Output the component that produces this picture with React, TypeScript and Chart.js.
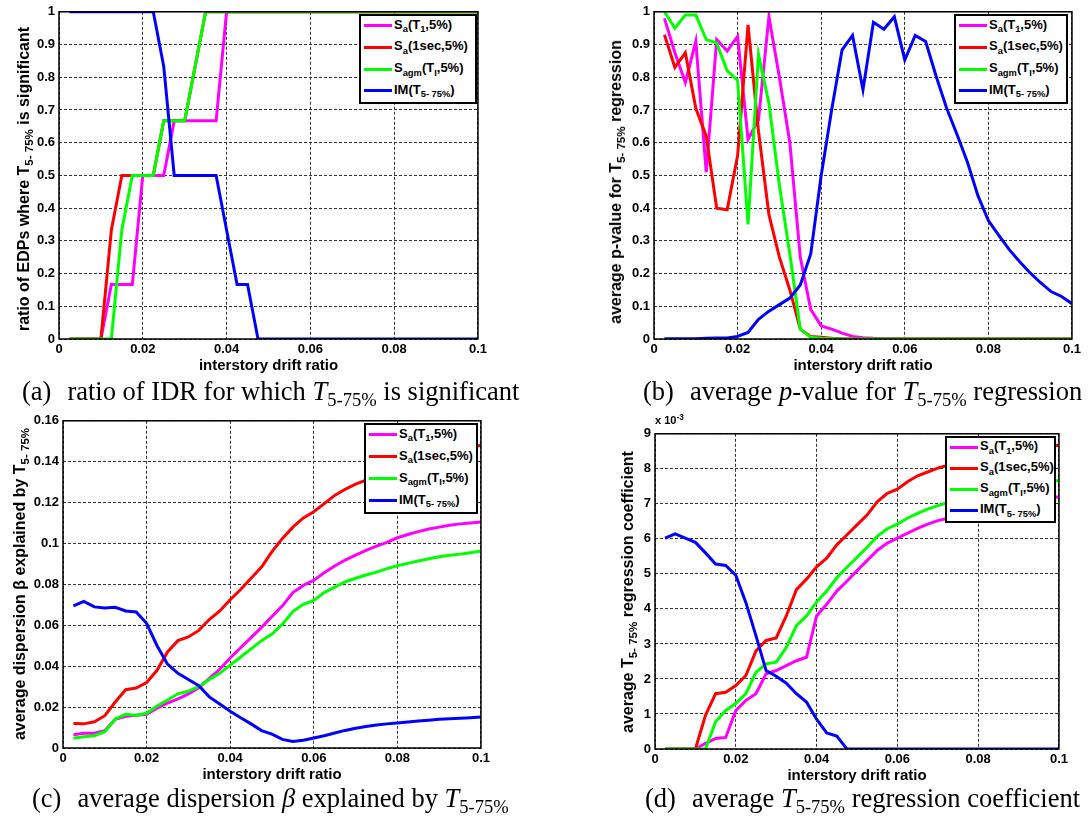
import React, { useEffect, useRef } from "react";
import { Chart, registerables } from "chart.js";

Chart.register(...registerables);

// ---------- data ----------
const DRIFT = [
  0.0025, 0.005, 0.0075, 0.01, 0.0125, 0.015, 0.0175, 0.02, 0.0225, 0.025,
  0.0275, 0.03, 0.0325, 0.035, 0.0375, 0.04, 0.0425, 0.045, 0.0475, 0.05,
  0.0525, 0.055, 0.0575, 0.06, 0.0625, 0.065, 0.0675, 0.07, 0.0725, 0.075,
  0.0775, 0.08, 0.0825, 0.085, 0.0875, 0.09, 0.0925, 0.095, 0.0975, 0.1,
];

// (a) ratio of EDPs where T5-75% is significant
const A_SA_T1 = [
  0, 0, 0, 0, 0.1667, 0.1667, 0.1667, 0.5, 0.5, 0.5,
  0.6667, 0.6667, 0.6667, 0.6667, 0.6667, 1, 1, 1, 1, 1,
  1, 1, 1, 1, 1, 1, 1, 1, 1, 1,
  1, 1, 1, 1, 1, 1, 1, 1, 1, 1,
];
const A_SA_1S = [
  0, 0, 0, 0, 0.3333, 0.5, 0.5, 0.5, 0.5, 0.6667,
  0.6667, 0.6667, 0.8333, 1, 1, 1, 1, 1, 1, 1,
  1, 1, 1, 1, 1, 1, 1, 1, 1, 1,
  1, 1, 1, 1, 1, 1, 1, 1, 1, 1,
];
const A_SAGM = [
  0, 0, 0, 0, 0, 0.3333, 0.5, 0.5, 0.5, 0.6667,
  0.6667, 0.6667, 0.8333, 1, 1, 1, 1, 1, 1, 1,
  1, 1, 1, 1, 1, 1, 1, 1, 1, 1,
  1, 1, 1, 1, 1, 1, 1, 1, 1, 1,
];
const A_IM = [
  1, 1, 1, 1, 1, 1, 1, 1, 1, 0.8333,
  0.5, 0.5, 0.5, 0.5, 0.5, 0.3333, 0.1667, 0.1667, 0, 0,
  0, 0, 0, 0, 0, 0, 0, 0, 0, 0,
  0, 0, 0, 0, 0, 0, 0, 0, 0, 0,
];

// (b) average p-value
const B_SA_T1 = [
  0.98, 0.875, 0.784, 0.91, 0.51, 0.915, 0.88, 0.925, 0.61, 0.67,
  0.985, 0.8, 0.6, 0.25, 0.09, 0.04, 0.03, 0.018, 0.008, 0.004,
  0.002, 0.001, 0.001, 0, 0, 0, 0, 0, 0, 0,
  0, 0, 0, 0, 0, 0, 0, 0, 0, 0,
];
const B_SA_1S = [
  0.93, 0.83, 0.875, 0.705, 0.62, 0.4, 0.395, 0.56, 0.96, 0.635,
  0.38, 0.25, 0.15, 0.03, 0.008, 0.005, 0.002, 0.001, 0, 0,
  0, 0, 0, 0, 0, 0, 0, 0, 0, 0,
  0, 0, 0, 0, 0, 0, 0, 0, 0, 0,
];
const B_SAGM = [
  1, 0.95, 0.99, 0.99, 0.915, 0.905, 0.82, 0.79, 0.35, 0.87,
  0.72, 0.47, 0.26, 0.03, 0.005, 0.002, 0.001, 0, 0, 0,
  0, 0, 0, 0, 0, 0, 0, 0, 0, 0,
  0, 0, 0, 0, 0, 0, 0, 0, 0, 0,
];
const B_IM = [
  0.001, 0.001, 0.001, 0.001, 0.002, 0.003, 0.003, 0.008, 0.02, 0.06,
  0.085, 0.105, 0.125, 0.165, 0.26, 0.5, 0.7, 0.884, 0.928, 0.762,
  0.968, 0.947, 0.985, 0.853, 0.928, 0.909, 0.803, 0.706, 0.625, 0.54,
  0.438, 0.362, 0.317, 0.273, 0.236, 0.202, 0.172, 0.145, 0.13, 0.108,
];

// (c) average dispersion beta explained
const C_SA_T1 = [
  0.0065, 0.0072, 0.0072, 0.0085, 0.014, 0.0155, 0.016, 0.0165, 0.0195, 0.022,
  0.024, 0.0265, 0.0295, 0.034, 0.0385, 0.044, 0.049, 0.054, 0.059, 0.0643,
  0.0695, 0.076, 0.0795, 0.082, 0.0857, 0.089, 0.0919, 0.0943, 0.0966, 0.0987,
  0.1005, 0.1028, 0.1044, 0.1058, 0.1071, 0.108, 0.1089, 0.1096, 0.11, 0.1105,
];
const C_SA_1S = [
  0.012, 0.0118, 0.0128, 0.0158, 0.0225, 0.0285, 0.0293, 0.032, 0.038, 0.047,
  0.0525, 0.0543, 0.0575, 0.0628, 0.067, 0.0725, 0.0775, 0.083, 0.0885, 0.096,
  0.1025, 0.108, 0.1125, 0.1155, 0.1195, 0.1235, 0.1265, 0.129, 0.131, 0.133,
  0.135, 0.137, 0.139, 0.1405, 0.142, 0.1435, 0.145, 0.146, 0.147, 0.148,
];
const C_SAGM = [
  0.0048, 0.0055, 0.006, 0.008, 0.0142, 0.0165, 0.016, 0.017, 0.0205, 0.0235,
  0.0265, 0.0278, 0.03, 0.0335, 0.0365, 0.0405, 0.0445, 0.0485, 0.0525, 0.0557,
  0.0605, 0.0667, 0.0703, 0.0722, 0.076, 0.0787, 0.0812, 0.083, 0.0846, 0.086,
  0.0877, 0.0891, 0.0903, 0.0914, 0.0925, 0.0935, 0.0943, 0.0948, 0.0955, 0.0963,
];
const C_IM = [
  0.0695, 0.0717, 0.069, 0.0685, 0.0688, 0.067, 0.0665, 0.061, 0.05, 0.041,
  0.0365, 0.0335, 0.0305, 0.025, 0.0215, 0.018, 0.0148, 0.0118, 0.0085, 0.0068,
  0.0042, 0.0032, 0.0038, 0.0049, 0.006, 0.0073, 0.0086, 0.0097, 0.0105, 0.0112,
  0.0118, 0.0122, 0.0127, 0.0132, 0.0136, 0.014, 0.0143, 0.0146, 0.0148, 0.0151,
];

// (d) average regression coefficient (x 10^-3)
const D_SA_T1_E3 = [
  0, 0, 0, 0, 0.16, 0.3, 0.33, 1.1, 1.39, 1.58,
  2.15, 2.24, 2.38, 2.52, 2.62, 3.8, 4.13, 4.51, 4.79, 5.09,
  5.38, 5.67, 5.88, 6.02, 6.16, 6.3, 6.42, 6.52, 6.59, 6.67,
  6.74, 6.8, 6.86, 6.92, 6.97, 7.02, 7.07, 7.11, 7.16, 7.2,
];
const D_SA_1S_E3 = [
  0, 0, 0, 0, 0.96, 1.58, 1.62, 1.81, 2.1, 2.8,
  3.1, 3.17, 3.8, 4.55, 4.85, 5.2, 5.45, 5.83, 6.11, 6.4,
  6.68, 7.06, 7.3, 7.42, 7.63, 7.8, 7.91, 8.02, 8.1, 8.18,
  8.25, 8.32, 8.38, 8.44, 8.5, 8.55, 8.59, 8.62, 8.65, 8.67,
];
const D_SAGM_E3 = [
  0, 0, 0, 0, 0, 0.78, 1.1, 1.3, 1.58, 2.19,
  2.43, 2.48, 2.9, 3.52, 3.8, 4.2, 4.51, 4.89, 5.19, 5.47,
  5.76, 6.07, 6.29, 6.42, 6.59, 6.73, 6.85, 6.95, 7.03, 7.1,
  7.17, 7.24, 7.3, 7.36, 7.42, 7.48, 7.53, 7.58, 7.63, 7.67,
];
const D_IM_E3 = [
  6.02, 6.14, 6.02, 5.9, 5.6, 5.28, 5.24, 4.96, 4.18, 3.23,
  2.24, 2.08, 1.88, 1.58, 1.34, 0.85, 0.46, 0.37, 0, 0,
  0, 0, 0, 0, 0, 0, 0, 0, 0, 0,
  0, 0, 0, 0, 0, 0, 0, 0, 0, 0,
];

// ticks
const X_TICKS = [0, 0.02, 0.04, 0.06, 0.08, 0.1];
const X_TICK_LABELS = ["0", "0.02", "0.04", "0.06", "0.08", "0.1"];
const Y_TICKS_RATIO = [0, 0.1, 0.2, 0.3, 0.4, 0.5, 0.6, 0.7, 0.8, 0.9, 1];
const Y_TICK_LABELS_RATIO = ["0", "0.1", "0.2", "0.3", "0.4", "0.5", "0.6", "0.7", "0.8", "0.9", "1"];
const Y_TICKS_BETA = [0, 0.02, 0.04, 0.06, 0.08, 0.1, 0.12, 0.14, 0.16];
const Y_TICK_LABELS_BETA = ["0", "0.02", "0.04", "0.06", "0.08", "0.1", "0.12", "0.14", "0.16"];
const Y_TICKS_COEF = [0, 1, 2, 3, 4, 5, 6, 7, 8, 9];
const Y_TICK_LABELS_COEF = ["0", "1", "2", "3", "4", "5", "6", "7", "8", "9"];

const SERIES_NAMES = ["Sa(T1,5%)", "Sa(1sec,5%)", "Sagm(TI,5%)", "IM(T5-75%)"];
const X_TITLE = "interstory drift ratio";

// ---------- styles ----------
const SERIES_COLORS = ["#ff00ff", "#ff0000", "#00ff00", "#0000ff"];
const SANS = "'Liberation Sans', Arial, Helvetica, sans-serif";
const SERIF = "'Liberation Serif', 'Times New Roman', Times, serif";

const framePlugin = {
  id: "frameBox",
  afterDatasetsDraw(chart: any) {
    const { ctx, chartArea } = chart;
    const { left, top, right, bottom } = chartArea;
    ctx.save();
    ctx.setLineDash([]);
    ctx.strokeStyle = "#000";
    ctx.lineWidth = 1.5;
    ctx.strokeRect(left, top, right - left, bottom - top);
    ctx.restore();
  },
};

const Y_AXIS_W = 50;
const X_AXIS_H = 40;
const PAD_TOP = 10;
const PAD_RIGHT = 12;

type PanelProps = {
  plotLeft: number;
  plotTop: number;
  plotRight: number;
  plotBottom: number;
  series: number[][];
  yTicks: number[];
  yLabels: string[];
};

function Panel({ plotLeft, plotTop, plotRight, plotBottom, series, yTicks, yLabels }: PanelProps) {
  const ref = useRef<HTMLCanvasElement>(null);
  const width = plotRight - plotLeft + Y_AXIS_W + PAD_RIGHT;
  const height = plotBottom - plotTop + PAD_TOP + X_AXIS_H;

  useEffect(() => {
    if (!ref.current) return;
    const tickFont = { family: SANS, size: 13, weight: "bold" as const };
    const chart = new Chart(ref.current, {
      type: "line",
      data: {
        datasets: series.map((vals, k) => ({
          label: SERIES_NAMES[k],
          data: DRIFT.map((x, i) => ({ x, y: vals[i] })),
          borderColor: SERIES_COLORS[k],
          backgroundColor: SERIES_COLORS[k],
          borderWidth: 3,
          pointRadius: 0,
          fill: false,
          tension: 0,
          order: 4 - k,
        })),
      },
      options: {
        responsive: false,
        maintainAspectRatio: false,
        animation: false,
        events: [],
        layout: { padding: { left: 0, top: PAD_TOP, right: PAD_RIGHT, bottom: 0 } },
        plugins: { legend: { display: false }, tooltip: { enabled: false } },
        scales: {
          x: {
            type: "linear",
            min: 0,
            max: 0.1,
            afterBuildTicks: (s: any) => {
              s.ticks = X_TICKS.map((v) => ({ value: v }));
            },
            afterFit: (s: any) => {
              s.height = X_AXIS_H;
            },
            ticks: {
              autoSkip: false,
              maxRotation: 0,
              padding: 3,
              color: "#000",
              font: tickFont,
              callback: (_v: any, i: number) => X_TICK_LABELS[i],
            },
            grid: { color: "#333", lineWidth: 1, drawTicks: false },
            border: { display: false, dash: [3, 2] },
            title: {
              display: true,
              text: X_TITLE,
              color: "#000",
              font: { family: SANS, size: 15, weight: "bold" },
              padding: { top: 0, bottom: 4 },
            },
          },
          y: {
            type: "linear",
            min: yTicks[0],
            max: yTicks[yTicks.length - 1],
            afterBuildTicks: (s: any) => {
              s.ticks = yTicks.map((v) => ({ value: v }));
            },
            afterFit: (s: any) => {
              s.width = Y_AXIS_W;
            },
            ticks: {
              autoSkip: false,
              padding: 4,
              color: "#000",
              font: tickFont,
              callback: (_v: any, i: number) => yLabels[i],
            },
            grid: { color: "#333", lineWidth: 1, drawTicks: false },
            border: { display: false, dash: [3, 2] },
          },
        },
      },
      plugins: [framePlugin],
    } as any);
    return () => chart.destroy();
  }, []);

  return (
    <canvas
      ref={ref}
      width={width}
      height={height}
      style={{
        position: "absolute",
        left: plotLeft - Y_AXIS_W,
        top: plotTop - PAD_TOP,
        width,
        height,
      }}
    />
  );
}

const Sub = ({ children }: { children: React.ReactNode }) => (
  <span style={{ fontSize: "0.72em", position: "relative", top: "0.38em", lineHeight: 0 }}>{children}</span>
);

const LEGEND_ITEMS = [
  <>S<Sub>a</Sub>(T<Sub>1</Sub>,5%)</>,
  <>S<Sub>a</Sub>(1sec,5%)</>,
  <>S<Sub>agm</Sub>(T<Sub>I</Sub>,5%)</>,
  <>IM(T<Sub>5- 75%</Sub>)</>,
];

function LegendBox({ left, top, width, height }: { left: number; top: number; width: number; height: number }) {
  const k0 = height / 90;
  return (
    <div
      style={{
        position: "absolute",
        left,
        top,
        width,
        height,
        boxSizing: "border-box",
        border: "2px solid #000",
        background: "#fff",
        fontFamily: SANS,
        fontWeight: "bold",
        fontSize: 13,
        color: "#000",
      }}
    >
      {LEGEND_ITEMS.map((item, k) => {
        const cy = (9.7 + k * 21.7) * k0;
        return (
          <React.Fragment key={k}>
            <div style={{ position: "absolute", left: 3, top: cy - 1.5, width: 28, height: 3, background: SERIES_COLORS[k] }} />
            <div style={{ position: "absolute", left: 33, top: cy - 9, lineHeight: "15px", whiteSpace: "nowrap" }}>{item}</div>
          </React.Fragment>
        );
      })}
    </div>
  );
}

function YTitle({ cx, cy, children }: { cx: number; cy: number; children: React.ReactNode }) {
  return (
    <div
      style={{
        position: "absolute",
        left: cx,
        top: cy,
        transform: "translate(-50%, -50%) rotate(-90deg)",
        whiteSpace: "nowrap",
        fontFamily: SANS,
        fontWeight: "bold",
        fontSize: 16,
        lineHeight: "18px",
        color: "#000",
      }}
    >
      {children}
    </div>
  );
}

function Caption({ left, baseline, tag, children }: { left: number; baseline: number; tag: string; children: React.ReactNode }) {
  return (
    <div
      style={{
        position: "absolute",
        left,
        top: baseline - 22,
        whiteSpace: "nowrap",
        fontFamily: SERIF,
        fontSize: 26.5,
        lineHeight: "26px",
        color: "#000",
      }}
    >
      <span style={{ marginRight: 16 }}>{tag}</span>
      {children}
    </div>
  );
}

const T575 = (
  <>
    <i>T</i>
    <span style={{ fontSize: "0.7em", position: "relative", top: "0.3em", lineHeight: 0 }}>5-75%</span>
  </>
);

export default function App() {
  return (
    <div
      style={{
        position: "absolute",
        left: 0,
        top: 0,
        width: 1090,
        height: 821,
        background: "#fff",
        overflow: "hidden",
      }}
    >
      <Panel
        plotLeft={59}
        plotTop={10}
        plotRight={478}
        plotBottom={339}
        series={[A_SA_T1, A_SA_1S, A_SAGM, A_IM]}
        yTicks={Y_TICKS_RATIO}
        yLabels={Y_TICK_LABELS_RATIO}
      />
      <Panel
        plotLeft={654}
        plotTop={10}
        plotRight={1072}
        plotBottom={339}
        series={[B_SA_T1, B_SA_1S, B_SAGM, B_IM]}
        yTicks={Y_TICKS_RATIO}
        yLabels={Y_TICK_LABELS_RATIO}
      />
      <Panel
        plotLeft={63}
        plotTop={419}
        plotRight={481}
        plotBottom={748}
        series={[C_SA_T1, C_SA_1S, C_SAGM, C_IM]}
        yTicks={Y_TICKS_BETA}
        yLabels={Y_TICK_LABELS_BETA}
      />
      <Panel
        plotLeft={655}
        plotTop={432}
        plotRight={1059}
        plotBottom={749}
        series={[D_SA_T1_E3, D_SA_1S_E3, D_SAGM_E3, D_IM_E3]}
        yTicks={Y_TICKS_COEF}
        yLabels={Y_TICK_LABELS_COEF}
      />

      <LegendBox left={359} top={14} width={118} height={90} />
      <LegendBox left={954} top={14} width={114} height={90} />
      <LegendBox left={364} top={423} width={114} height={91} />
      <LegendBox left={945} top={436} width={111} height={87} />

      <YTitle cx={24} cy={179}>
        ratio of EDPs where T<Sub>5- 75%</Sub> is significant
      </YTitle>
      <YTitle cx={616} cy={182}>
        average p-value for T<Sub>5- 75%</Sub> regression
      </YTitle>
      <YTitle cx={20} cy={584}>
        average dispersion β explained by T<Sub>5- 75%</Sub>
      </YTitle>
      <YTitle cx={628} cy={592}>
        average T<Sub>5- 75%</Sub> regression coefficient
      </YTitle>

      <div
        style={{
          position: "absolute",
          left: 655,
          top: 414,
          fontFamily: SANS,
          fontWeight: "bold",
          fontSize: 11,
          lineHeight: "13px",
          whiteSpace: "nowrap",
        }}
      >
        x 10<span style={{ fontSize: "0.75em", position: "relative", top: "-0.5em", lineHeight: 0 }}>-3</span>
      </div>

      <Caption left={22} baseline={400} tag="(a)">
        ratio of IDR for which {T575} is significant
      </Caption>
      <Caption left={643} baseline={400} tag="(b)">
        average <i>p</i>-value for {T575} regression
      </Caption>
      <Caption left={32} baseline={807} tag="(c)">
        average dispersion <i>β</i> explained by {T575}
      </Caption>
      <Caption left={645} baseline={807} tag="(d)">
        average {T575} regression coefficient
      </Caption>
    </div>
  );
}
